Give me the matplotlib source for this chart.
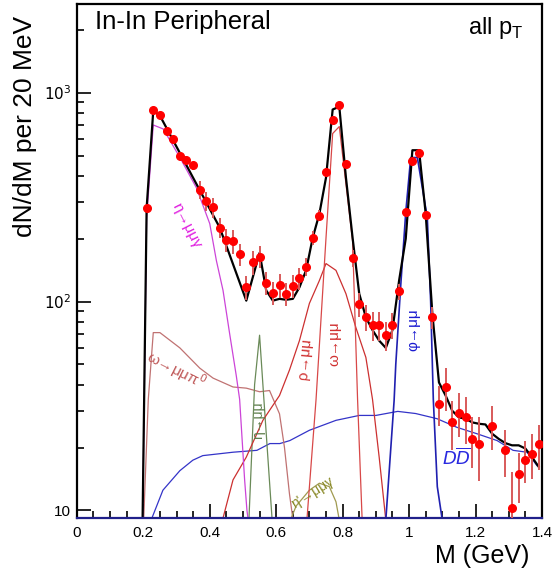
import numpy as np
import matplotlib
matplotlib.use("Agg")
import matplotlib.pyplot as plt
from matplotlib.ticker import FixedLocator, NullFormatter

plt.rcParams["font.family"] = ["Liberation Sans", "DejaVu Sans"]

# ======================================
# DATA
# ======================================
# measured points, 20 MeV bins
mass = [0.21, 0.23, 0.25, 0.27, 0.29, 0.31, 0.33, 0.35, 0.37, 0.39,
        0.41, 0.43, 0.45, 0.47, 0.49, 0.51, 0.53, 0.55, 0.57, 0.59,
        0.61, 0.63, 0.65, 0.67, 0.69, 0.71, 0.73, 0.75, 0.77, 0.79,
        0.81, 0.83, 0.85, 0.87, 0.89, 0.91, 0.93, 0.95, 0.97, 0.99,
        1.01, 1.03, 1.05, 1.07, 1.09, 1.11, 1.13, 1.15, 1.17, 1.19,
        1.21, 1.25, 1.29, 1.31, 1.33, 1.35, 1.37, 1.39]
counts = [280, 830, 785, 658, 603, 500, 478, 448, 343, 304,
          282, 226, 198, 194, 168, 117, 154, 164, 123, 110,
          120, 109, 119, 129, 147, 202, 258, 419, 743, 877,
          457, 161, 97, 84, 77, 77, 69, 77, 112, 267,
          473, 516, 261, 84, 32.5, 39, 26.4, 29.4, 27.9, 21.9,
          20.9, 25.5, 19.4, 10.3, 14.9, 17.5, 18.7, 20.7]
errors = [8, 20, 20, 20, 20, 20, 20, 20, 35, 32,
          30, 25, 25, 25, 20, 15, 20, 20, 16, 14,
          16, 14, 15, 15, 15, 15, 15, 15, 20, 20,
          20, 15, 13, 12, 12, 12, 11, 11, 10, 10,
          15, 15, 10, 10, 7, 9, 7, 7, 7, 6,
          7, 6, 5, 5, 4, 4, 4.5, 5]

# sum of all sources (black)
sum_x = [0.19, 0.21, 0.23, 0.25, 0.43, 0.51, 0.55, 0.57, 0.59, 0.61,
         0.63, 0.65, 0.67, 0.69, 0.71, 0.73, 0.75, 0.77, 0.79, 0.81,
         0.83, 0.85, 0.87, 0.89, 0.91, 0.93, 0.95, 0.97, 0.99, 1.01,
         1.03, 1.05, 1.07, 1.09, 1.11, 1.13, 1.15, 1.17, 1.19, 1.21,
         1.23, 1.25, 1.27, 1.29, 1.31, 1.33, 1.35, 1.37, 1.39]
sum_y = [1, 280, 820, 776, 226, 101, 171, 113, 101, 103,
         102, 103, 117, 141, 202, 263, 392, 830, 857, 392,
         202, 109, 84, 73, 65, 60, 73, 126, 200, 530,
         530, 264, 88, 41, 35.5, 30, 27.9, 27.5, 26.4, 26,
         25.8, 23.3, 22, 21, 20.5, 20.5, 19.8, 18, 16.2]

# eta -> mu mu gamma (magenta)
eta_dal_x = [0.19, 0.21, 0.23, 0.26, 0.31, 0.36, 0.40, 0.42, 0.44, 0.46,
             0.48, 0.49, 0.505, 0.512, 0.52]
eta_dal_y = [1, 250, 700, 670, 490, 350, 236, 157, 113, 70,
             44, 34, 14, 10, 8]

# omega -> mu mu pi0 (rosy brown)
omega_dal_x = [0.195, 0.215, 0.23, 0.25, 0.31, 0.37, 0.41, 0.47, 0.51, 0.55,
               0.58, 0.61, 0.625, 0.64, 0.655]
omega_dal_y = [5, 34, 71, 71, 60, 48, 43, 39, 38.5, 37,
               37.5, 29, 20, 12, 8]

# eta -> mu mu (green)
eta_x = [0.515, 0.535, 0.55, 0.56, 0.59]
eta_y = [7, 40, 69, 40, 8]

# eta' -> mu mu gamma (olive)
etap_x = [0.63, 0.66, 0.70, 0.73, 0.76, 0.78, 0.79]
etap_y = [8, 10.5, 12.5, 13.5, 13, 11, 9]

# rho -> mu mu (red, broad)
rho_x = [0.43, 0.47, 0.51, 0.56, 0.61, 0.64, 0.67, 0.70, 0.73, 0.75,
         0.78, 0.81, 0.84, 0.87, 0.89, 0.91, 0.93]
rho_y = [8, 14, 18, 27, 35.5, 47, 65, 98, 126, 152,
         141, 109, 75, 54, 34, 18, 9]

# omega -> mu mu (red, narrow)
omega_x = [0.69, 0.72, 0.75, 0.77, 0.79, 0.83, 0.845, 0.86]
omega_y = [8, 34, 202, 637, 688, 195, 34, 8]

# phi -> mu mu (blue)
phi_x = [0.93, 0.955, 0.96, 0.975, 0.99, 1.005, 1.025, 1.055, 1.065, 1.073,
         1.085, 1.10]
phi_y = [9, 33.6, 50, 120, 267, 489, 489, 251, 100, 34,
         13, 9]

# open charm DD (blue)
dd_x = [0.22, 0.226, 0.259, 0.31, 0.349, 0.379, 0.47, 0.542, 0.581, 0.611,
        0.641, 0.70, 0.78, 0.85, 0.90, 0.966, 1.02, 1.084, 1.144, 1.204,
        1.265, 1.313, 1.355, 1.385]
dd_y = [8, 9.2, 12.5, 15.5, 17.4, 18.3, 19, 19.4, 20.9, 20.9,
        21.6, 24.2, 27, 28.5, 28.5, 29.8, 29.1, 27.5, 25, 23.3,
        21.6, 19.4, 19, 16.4]

x_ticks = [0, 0.2, 0.4, 0.6, 0.8, 1.0, 1.2, 1.4]
x_tick_labels = ["0", "0.2", "0.4", "0.6", "0.8", "1", "1.2", "1.4"]
y_ticks = [10, 100, 1000]
y_tick_labels = ["10", "$10^2$", "$10^3$"]

# ======================================
# FIGURE
# ======================================
fig = plt.figure(figsize=(5.53, 5.69), dpi=100)
ax = fig.add_axes([0.139, 0.0896, 0.841, 0.903])

lw_c = 0.9
ax.plot(dd_x, dd_y, color="#3434c8", lw=lw_c)
ax.plot(omega_dal_x, omega_dal_y, color="#c07272", lw=lw_c)
ax.plot(etap_x, etap_y, color="#a09a50", lw=lw_c)
ax.plot(eta_x, eta_y, color="#6a8a58", lw=lw_c)
ax.plot(rho_x, rho_y, color="#cc3030", lw=lw_c)
ax.plot(omega_x, omega_y, color="#d84848", lw=lw_c)
ax.plot(eta_dal_x, eta_dal_y, color="#cc44d8", lw=lw_c)
ax.plot(phi_x, phi_y, color="#2020b0", lw=1.2)
ax.plot(sum_x, sum_y, color="black", lw=1.6)

ax.errorbar(mass, counts, yerr=errors, fmt="o", color="#ff0000",
            ms=5.5, ecolor="#d85a5a", elinewidth=1.4, capsize=0, zorder=5)

ax.set_yscale("log")
ax.set_xlim(0, 1.4)
ax.set_ylim(9.2, 2650)

ax.xaxis.set_major_locator(FixedLocator(x_ticks))
ax.set_xticklabels(x_tick_labels)
ax.xaxis.set_minor_locator(FixedLocator(np.arange(0, 1.41, 0.05)))
ax.yaxis.set_major_locator(FixedLocator(y_ticks))
ax.set_yticklabels(y_tick_labels)
minor_y = [m * d for d in (10, 100, 1000) for m in range(2, 10)]
ax.yaxis.set_minor_locator(FixedLocator(minor_y))
ax.yaxis.set_minor_formatter(NullFormatter())

ax.tick_params(which="both", direction="in", top=False, right=False,
               width=1.2, labelsize=11)
ax.tick_params(which="major", length=10)
ax.tick_params(axis="x", which="major", pad=6)
ax.tick_params(axis="y", which="major", pad=4)
ax.tick_params(which="minor", length=5)
for s in ax.spines.values():
    s.set_linewidth(1.6)
ax.spines["bottom"].set_color("#20208a")

# ======================================
# TEXT
# ======================================
fig.text(0.045, 0.778, "dN/dM per 20 MeV", rotation=90, fontsize=19,
         ha="center", va="center")
fig.text(0.958, 0.002, "M (GeV)", fontsize=18, ha="right", va="bottom")
ax.text(0.04, 0.965, "In-In Peripheral", transform=ax.transAxes,
        fontsize=18.5, ha="left", va="center")
ax.text(0.96, 0.953, "all p$_\\mathregular{T}$", transform=ax.transAxes,
        fontsize=17, ha="right", va="center")

ax.text(0.33, 230, "η→μμγ", color="#e020e0", fontsize=11, rotation=-63,
        ha="center", va="center")
ax.text(0.30, 47, "ω→μμπ$^0$", color="#c05a5a", fontsize=11, rotation=-27,
        ha="center", va="center")
ax.text(0.545, 27, "η→μμ", color="#5e7e4c", fontsize=10, rotation=90,
        ha="center", va="center")
ax.text(0.71, 12.2, "η'→μμγ", color="#8a8a28", fontsize=10, rotation=32,
        ha="center", va="center")
ax.text(0.686, 53, "ρ→μμ", color="#d03030", fontsize=11, rotation=85,
        ha="center", va="center")
ax.text(0.775, 63, "ω→μμ", color="#d03030", fontsize=11, rotation=90,
        ha="center", va="center")
ax.text(1.012, 73, "φ→μμ", color="#1a1ad0", fontsize=11, rotation=90,
        ha="center", va="center")
ax.text(1.145, 17.8, "$D\\overline{D}$", color="#2a2ae0", fontsize=13,
        ha="center", va="center")

fig.savefig("out.png", dpi=100)
